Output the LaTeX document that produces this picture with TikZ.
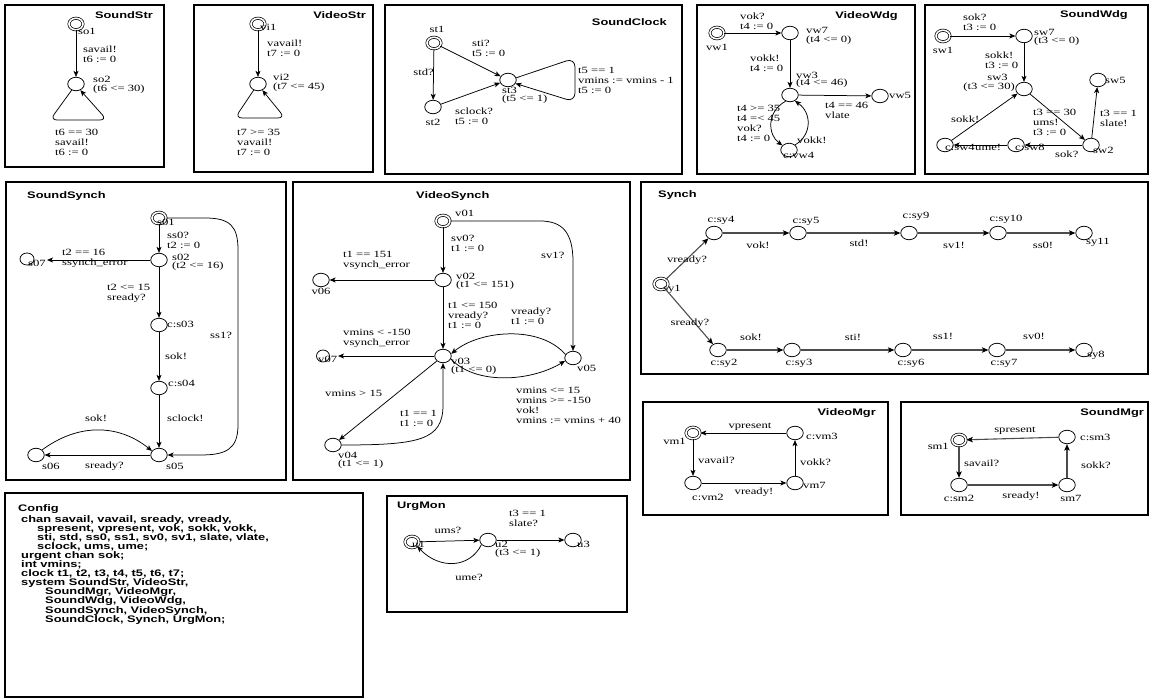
\documentclass[tikz,border=0pt]{standalone}
\usepackage{fontspec}
\setmainfont{Liberation Serif}[FakeStretch=1.33]
\newfontfamily\tsans{Liberation Sans}[FakeStretch=1.35]
\usetikzlibrary{arrows.meta,shapes.geometric}
\newcommand{\lbfont}{\rmfamily\fontsize{9.5}{10}\selectfont}
\newcommand{\ttfont}{\tsans\bfseries\fontsize{9.5}{10}\selectfont}
\newcommand{\cfgfont}{\tsans\bfseries\fontsize{9.5}{9.1}\selectfont}
\tikzset{
  panel/.style={draw, line width=2.6pt},
  sn/.style={ellipse, draw, line width=0.75pt, minimum width=16.5pt, minimum height=13.5pt, inner sep=0pt},
  ini/.style={ellipse, draw, line width=0.7pt, double, double distance=1.6pt, minimum width=14pt, minimum height=11.5pt, inner sep=0pt},
  lb/.style={font=\lbfont, inner sep=0pt, align=left, anchor=west},
  lbc/.style={font=\lbfont, inner sep=0pt, align=center},
  ttl/.style={font=\ttfont, inner sep=0pt},
  arr/.style={line width=0.75pt, -{Stealth[length=6pt,width=5pt,inset=1.5pt]}},
  garr/.style={line width=1.1pt, draw=black!70, -{Stealth[length=6.5pt,width=5.5pt,inset=1.5pt,color=black]}},
}
\begin{document}
\begin{tikzpicture}[x=1pt,y=-1pt]
\useasboundingbox[fill=white] (0,0) rectangle (1150,700);

% ---------------- SoundStr
\draw[panel] (5,5) rectangle (164,167);
\node[ttl, anchor=east] (tSoundStr) at (153,15) {SoundStr};
\node[ini] (so1) at (76,24) {};
\node[lb] (so1l) at (78,31) {so1};
\node[sn] (so2) at (76,84) {};
\node[lb] (so2l) at (93,84.5) {so2\\[-1pt](t6 <= 30)};
\draw[arr] (so1) -- (so2);
\node[lb] (so12l) at (83,54) {savail!\\t6 := 0};
\draw[arr, rounded corners=7pt] (so2.235) -- (50,120) -- (107,120) -- (so2.-55);
\node[lb] (so22l) at (55,142.5) {t6 == 30\\savail!\\t6 := 0};

% ---------------- VideoStr
\draw[panel] (194,5) rectangle (373,172);
\node[ttl, anchor=east] (tVideoStr) at (366,15) {VideoStr};
\node[ini] (vi1) at (258,24) {};
\node[lb] (vi1l) at (260,27) {vi1};
\node[sn] (vi2) at (258,84) {};
\node[lb] (vi2l) at (273,83) {vi2\\[-1pt](t7 <= 45)};
\draw[arr] (vi1) -- (vi2);
\node[lb] (vi12l) at (267,48) {vavail!\\t7 := 0};
\draw[arr, rounded corners=7pt] (vi2.235) -- (235,118) -- (285,118) -- (vi2.-55);
\node[lb] (vi22l) at (237,142.5) {t7 >= 35\\vavail!\\t7 := 0};

% ---------------- SoundClock
\draw[panel] (385,5) rectangle (682,174);
\node[ttl, anchor=east] (tSoundClock) at (667,22) {SoundClock};
\node[ini] (st1) at (434,43) {};
\node[lbc] (st1l) at (437,29) {st1};
\node[sn] (st2) at (433,107) {};
\node[lbc] (st2l) at (433,122) {st2};
\node[sn] (st3) at (508,80) {};
\node[lb] (st3l) at (502,90) {st3};
\node[lb] (st3i) at (502,99.5) {(t5 <= 1)};
\draw[arr] (st1) -- (st2);
\node[lb, anchor=east] (st12l) at (434,72) {std?};
\draw[arr] (st1) -- (st3);
\node[lb] (st13l) at (472,48) {sti?\\t5 := 0};
\draw[arr] (st2) -- (st3);
\node[lb] (st23l) at (455,116) {sclock?\\t5 := 0};
\draw[arr, rounded corners=9pt] (st3.15) -- (575,58) -- (575,102) -- (st3.-25);
\node[lb] (st33l) at (578,80) {t5 == 1\\vmins := vmins - 1\\t5 := 0};

% ---------------- VideoWdg
\draw[panel] (697,5) rectangle (915,174);
\node[ttl, anchor=east] (tVideoWdg) at (898,16) {VideoWdg};
\node[ini] (vw1) at (717,33) {};
\node[lbc] (vw1l) at (717,47) {vw1};
\node[sn] (vw7) at (790,33) {};
\node[lb] (vw7l) at (806,30.5) {vw7};
\node[lb] (vw7i) at (806,40) {(t4 <= 0)};
\draw[arr] (vw1) -- (vw7);
\node[lb] (vw17l) at (740,21.5) {vok?\\t4 := 0};
\node[sn] (vw3) at (790,95) {};
\node[lb] (vw3l) at (796,75) {vw3};
\node[lb] (vw3i) at (796,83.5) {(t4 <= 46)};
\draw[arr] (vw7) -- (vw3);
\node[lb] (vw73l) at (750,63) {vokk!\\t4 := 0};
\node[sn] (vw5) at (880,96) {};
\node[lb] (vw5l) at (889,95) {vw5};
\draw[arr] (vw3) -- (vw5);
\node[lb] (vw35l) at (825,110) {t4 == 46\\vlate};
\node[sn] (vw4) at (789,150) {};
\node[lb] (vw4l) at (783,155) {c:vw4};
\draw[arr] (vw3.235) .. controls (766,112) and (768,135) .. (vw4.145);
\draw[arr] (vw4.40) .. controls (812,135) and (812,113) .. (vw3.-50);
\node[lb] (vw34l) at (737,123) {t4 >= 35\\t4 =< 45\\vok?\\t4 := 0};
\node[lb] (vw43l) at (797,140) {vokk!};

% ---------------- SoundWdg
\draw[panel] (925,5) rectangle (1148,174);
\node[ttl, anchor=east] (tSoundWdg) at (1128,15) {SoundWdg};
\node[ini] (sw1) at (943,36) {};
\node[lbc] (sw1l) at (943,50) {sw1};
\node[sn] (sw7) at (1024,36) {};
\node[lb] (sw7l) at (1034,32) {sw7};
\node[lb] (sw7i) at (1034,41.5) {(t3 <= 0)};
\draw[arr] (sw1) -- (sw7);
\node[lb] (sw17l) at (963,22) {sok?\\t3 := 0};
\node[sn] (sw3) at (1024,89) {};
\node[lb, anchor=east] (sw3l) at (1008,77.5) {sw3};
\node[lb, anchor=east] (sw3i) at (1015,87) {(t3 <= 30)};
\draw[arr] (sw7) -- (sw3);
\node[lb] (sw73l) at (985,60) {sokk!\\t3 := 0};
\node[sn] (sw2) at (1091,145) {};
\node[lb] (sw2l) at (1093,150) {sw2};
\draw[arr] (sw3) -- (sw2);
\node[lb] (sw32l) at (1033,122) {t3 == 30\\ums!\\t3 := 0};
\node[sn] (sw5) at (1098,80) {};
\node[lb] (sw5l) at (1105,80) {sw5};
\draw[arr] (sw2) -- (sw5);
\node[lb] (sw25l) at (1100,118.5) {t3 == 1\\slate!};
\node[sn] (sw8) at (1016,145) {};
\node[lb] (sw8l) at (1015,147) {c:sw8};
\draw[arr] (sw2) -- (sw8);
\node[lb] (sw28l) at (1055,154) {sok?};
\node[sn] (sw4) at (945,145) {};
\node[lb] (sw4l) at (945,147) {c:sw4};
\draw[arr] (sw8) -- (sw4);
\node[lb] (sw84l) at (975,147) {ume!};
\draw[arr] (sw4) -- (sw3);
\node[lb] (sw43l) at (951,119) {sokk!};

% ---------------- SoundSynch
\draw[panel] (6,182) rectangle (286,480);
\node[ttl, anchor=west] (tSoundSynch) at (27,196) {SoundSynch};
\node[ini] (s01) at (159,218) {};
\node[lb] (s01l) at (157,222) {s01};
\node[sn] (s02) at (159,260) {};
\node[lb] (s02l) at (172,257) {s02};
\node[lb] (s02i) at (172,266) {(t2 <= 16)};
\draw[arr] (s01) -- (s02);
\node[lb] (s012l) at (167,240) {ss0?\\t2 := 0};
\node[sn, minimum width=14pt, minimum height=12pt] (s07) at (27,259) {};
\node[lb] (s07l) at (28,263) {s07};
\coordinate (s07e) at (47,260);
\draw[arr] (s02) -- (s07e);
\node[lb] (s027l) at (62,258.5) {t2 == 16\\ssynch\_error};
\node[sn] (s03) at (159,325) {};
\node[lb] (s03l) at (167,324) {c:s03};
\draw[arr] (s02) -- (s03);
\node[lb] (s023l) at (107,293) {t2 <= 15\\sready?};
\node[sn] (s04) at (159,388) {};
\node[lb] (s04l) at (168,383) {c:s04};
\draw[arr] (s03) -- (s04);
\node[lb] (s034l) at (165,356) {sok!};
\node[sn] (s05) at (159,455) {};
\node[lb] (s05l) at (166,466) {s05};
\draw[arr] (s04) -- (s05);
\node[lb] (s045l) at (167,418) {sclock!};
\node[sn] (s06) at (36,455) {};
\node[lb] (s06l) at (42,466) {s06};
\draw[arr] (s05) -- (s06);
\node[lb] (s056l) at (85,466) {sready?};
\draw[arr] (s06.40) .. controls (80,422) and (120,425) .. (s05.150);
\node[lb] (s065l) at (85,418) {sok!};
\draw[arr] (s01.east) -- (205,218) .. controls (230,218) and (238,226) .. (238,250) -- (238,425) .. controls (238,450) and (225,455) .. (200,455) -- (s05.east);
\node[lb] (s015l) at (210,335) {ss1?};

% ---------------- VideoSynch
\draw[panel] (293,182) rectangle (630,480);
\node[ttl, anchor=west] (tVideoSynch) at (416,196) {VideoSynch};
\node[ini] (v01) at (443,221) {};
\node[lb] (v01l) at (455,213) {v01};
\node[sn] (v02) at (443,280) {};
\node[lb] (v02l) at (456,276) {v02};
\node[lb] (v02i) at (456,285) {(t1 <= 151)};
\draw[arr] (v01) -- (v02);
\node[lb] (v012l) at (451,243) {sv0?\\t1 := 0};
\node[sn] (v06) at (321,280) {};
\node[lbc] (v06l) at (321,291) {v06};
\draw[arr] (v02) -- (v06);
\node[lb] (v026l) at (343,260) {t1 == 151\\vsynch\_error};
\node[sn] (v03) at (443,356) {};
\node[lb] (v03l) at (451,361) {v03};
\node[lb] (v03i) at (451,370) {(t1 <= 0)};
\draw[arr] (v02) -- (v03);
\node[lb] (v023l) at (448,315) {t1 <= 150\\vready?\\t1 := 0};
\node[sn, minimum width=13pt, minimum height=12pt] (v07) at (323,356) {};
\node[lb] (v07l) at (318,359) {v07};
\coordinate (v07e) at (338,356);
\draw[arr] (v03) -- (v07e);
\node[lb] (v037l) at (343,338) {vmins < -150\\vsynch\_error};
\node[sn] (v05) at (573,358) {};
\node[lb] (v05l) at (577,368) {v05};
\draw[arr] (v01.east) -- (540,221) .. controls (562,221) and (573,232) .. (573,262) -- (v05.north);
\node[lb] (v015l) at (541,255) {sv1?};
\draw[arr] (v05.155) .. controls (540,325) and (480,330) .. (v03.15);
\node[lb] (v053l) at (511,316) {vready?\\t1 := 0};
\draw[arr] (v03.-20) .. controls (475,385) and (530,382) .. (v05.200);
\node[lb] (v035l) at (516,405) {vmins <= 15\\vmins >= -150\\vok!\\vmins := vmins + 40};
\node[sn] (v04) at (333,445) {};
\node[lb] (v04l) at (338,455) {v04};
\node[lb] (v04i) at (338,464) {(t1 <= 1)};
\draw[arr] (v03) -- (v04);
\node[lb] (v034l) at (325,393) {vmins > 15};
\draw[arr] (v04.east) .. controls (420,445) and (443,440) .. (443,405) -- (v03.south);
\node[lb] (v043l) at (400,418) {t1 == 1\\t1 := 0};

% ---------------- Synch
\draw[panel] (641,182) rectangle (1148,374);
\node[ttl, anchor=west] (tSynch) at (658,195) {Synch};
\node[ini] (sy1) at (661,284) {};
\node[lb] (sy1l) at (663,289) {sy1};
\node[sn] (sy4) at (714,233) {}; \node[lbc] (sy4l) at (721,220) {c:sy4};
\node[sn] (sy5) at (798,233) {}; \node[lbc] (sy5l) at (806,221) {c:sy5};
\node[sn] (sy9) at (909,233) {}; \node[lbc] (sy9l) at (916,216) {c:sy9};
\node[sn] (sy10) at (998,233) {}; \node[lbc] (sy10l) at (1006,219) {c:sy10};
\node[sn] (sy11) at (1084,233) {}; \node[lb] (sy11l) at (1086,242) {sy11};
\draw[garr] (sy1) -- (sy4); \node[lbc] (e14) at (687,260) {vready?};
\draw[garr] (sy4) -- (sy5); \node[lbc] (e45) at (758,245) {vok!};
\draw[garr] (sy5) -- (sy9); \node[lbc] (e59) at (859,243) {std!};
\draw[garr] (sy9) -- (sy10); \node[lbc] (e910) at (954,245) {sv1!};
\draw[garr] (sy10) -- (sy11); \node[lbc] (e1011) at (1043,245) {ss0!};
\node[sn] (sy2) at (718,350) {}; \node[lbc] (sy2l) at (724,363) {c:sy2};
\node[sn] (sy3) at (792,350) {}; \node[lbc] (sy3l) at (799,363) {c:sy3};
\node[sn] (sy6) at (903,350) {}; \node[lbc] (sy6l) at (911,363) {c:sy6};
\node[sn] (sy7) at (997,350) {}; \node[lbc] (sy7l) at (1004,363) {c:sy7};
\node[sn] (sy8) at (1084,350) {}; \node[lb] (sy8l) at (1087,355) {sy8};
\draw[garr] (sy1) -- (sy2); \node[lbc] (e12) at (690,323) {sready?};
\draw[garr] (sy2) -- (sy3); \node[lbc] (e23) at (751,337) {sok!};
\draw[garr] (sy3) -- (sy6); \node[lbc] (e36) at (853,337) {sti!};
\draw[garr] (sy6) -- (sy7); \node[lbc] (e67) at (943,336) {ss1!};
\draw[garr] (sy7) -- (sy8); \node[lbc] (e78) at (1034,336) {sv0!};

% ---------------- VideoMgr
\draw[panel] (643,402) rectangle (888,515);
\node[ttl, anchor=east] (tVideoMgr) at (876,413) {VideoMgr};
\node[ini] (vm1) at (693,433) {};
\node[lb, anchor=east] (vm1l) at (686,441) {vm1};
\node[sn] (vm3) at (795,433) {};
\node[lb] (vm3l) at (806,436) {c:vm3};
\node[sn] (vm2) at (693,483) {};
\node[lb] (vm2l) at (692,497) {c:vm2};
\node[sn] (vm7) at (795,483) {};
\node[lb] (vm7l) at (803,485) {vm7};
\draw[arr] (vm3) -- (vm1); \node[lbc] (vm31l) at (750,427) {vpresent};
\draw[arr] (vm1) -- (vm2); \node[lb] (vm12l) at (698,460) {vavail?};
\draw[arr] (vm2) -- (vm7); \node[lbc] (vm27l) at (754,492) {vready!};
\draw[arr] (vm7) -- (vm3); \node[lb] (vm73l) at (800,462) {vokk?};

% ---------------- SoundMgr
\draw[panel] (901,402) rectangle (1148,515);
\node[ttl, anchor=east] (tSoundMgr) at (1144,413) {SoundMgr};
\node[ini] (sm1) at (959,440) {};
\node[lb, anchor=east] (sm1l) at (949,446) {sm1};
\node[sn] (sm3) at (1067,437) {};
\node[lb] (sm3l) at (1080,437) {c:sm3};
\node[sn] (sm2) at (959,485) {};
\node[lbc] (sm2l) at (959,498) {c:sm2};
\node[sn] (sm7) at (1067,485) {};
\node[lbc] (sm7l) at (1071,498) {sm7};
\draw[garr] (sm3) -- (sm1); \node[lbc] (sm31l) at (1015,431) {spresent};
\draw[garr] (sm1) -- (sm2); \node[lb] (sm12l) at (964,463) {savail?};
\draw[garr] (sm2) -- (sm7); \node[lbc] (sm27l) at (1021,496) {sready!};
\draw[garr] (sm7) -- (sm3); \node[lb] (sm73l) at (1081,465) {sokk?};

% ---------------- Config
\draw[panel] (5,493) rectangle (363,697);
\node[ttl, anchor=west] (tConfig) at (18,509) {Config};
\node[font=\cfgfont, align=left, anchor=north west, inner sep=0pt] (cfgtext) at (21,515) {chan savail, vavail, sready, vready,\\
\hspace*{16pt}spresent, vpresent, vok, sokk, vokk,\\
\hspace*{16pt}sti, std, ss0, ss1, sv0, sv1, slate, vlate,\\
\hspace*{16pt}sclock, ums, ume;\\
urgent chan sok;\\
int vmins;\\
clock t1, t2, t3, t4, t5, t6, t7;\\
system SoundStr, VideoStr,\\
\hspace*{24pt}SoundMgr, VideoMgr,\\
\hspace*{24pt}SoundWdg, VideoWdg,\\
\hspace*{24pt}SoundSynch, VideoSynch,\\
\hspace*{24pt}SoundClock, Synch, UrgMon;};

% ---------------- UrgMon
\draw[panel] (387,496) rectangle (627,612);
\node[ttl, anchor=west] (tUrgMon) at (397,506) {UrgMon};
\node[ini] (u1) at (412,542) {};
\node[lb] (u1l) at (412,544) {u1};
\node[sn] (u2) at (488,540) {};
\node[lb] (u2l) at (495,544) {u2};
\node[lb] (u2i) at (495,553) {(t3 <= 1)};
\node[sn] (u3) at (573,540) {};
\node[lb] (u3l) at (577,544) {u3};
\draw[arr] (u1) -- (u2); \node[lbc] (u12l) at (448,530) {ums?};
\draw[arr] (u2) -- (u3); \node[lb] (u23l) at (509,518.5) {t3 == 1\\slate?};
\draw[arr] (u2.215) .. controls (470,568) and (440,570) .. (u1.-40);
\node[lbc] (u21l) at (469,577) {ume?};
\end{tikzpicture}
\end{document}
